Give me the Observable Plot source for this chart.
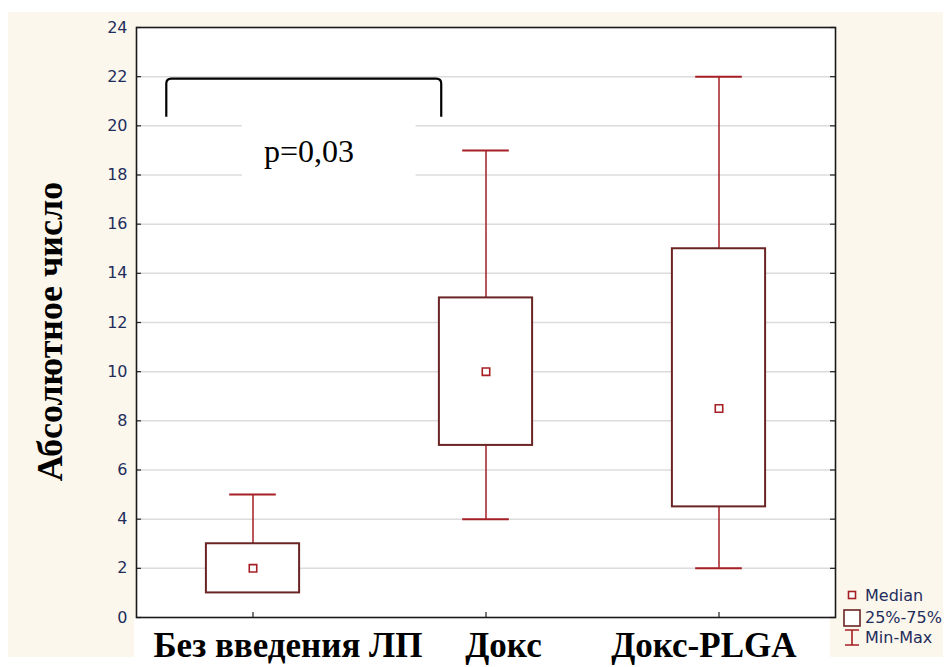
<!DOCTYPE html>
<html>
<head>
<meta charset="utf-8">
<script src="https://cdn.jsdelivr.net/npm/d3@7"></script>
<script src="https://cdn.jsdelivr.net/npm/@observablehq/plot@0.6"></script>
<style>
  body { margin: 0; background: #fff; }
  #wrap { position: relative; width: 945px; height: 667px; overflow: hidden; }
  .bg { position: absolute; }
  #chart { position: absolute; left: 0; top: 0; }
  #legend { position: absolute; left: 0; top: 0; }
</style>
</head>
<body>
<div id="wrap">
  <div class="bg" style="left:8px;top:12px;width:935px;height:645px;background:#fcf7ec"></div>
  <div class="bg" style="left:134px;top:618px;width:696px;height:49px;background:#fff"></div>
  <div id="chart"></div>
  <svg id="legend" width="945" height="667"></svg>
</div>
<script>
// Groups and box-plot summaries (min, quartiles, median, max)
const groups = ["Без введения ЛП", "Докс", "Докс-PLGA"];
const minVals = [1, 4, 2];
const q1Vals = [1, 7, 4.5];
const medianVals = [2, 10, 8.5];
const q3Vals = [3, 13, 15];
const maxVals = [5, 19, 22];
const yTicks = [0, 2, 4, 6, 8, 10, 12, 14, 16, 18, 20, 22, 24];
const pValueText = "p=0,03";

const rows = groups.map((g, i) => ({
  i, g, min: minVals[i], q1: q1Vals[i], median: medianVals[i], q3: q3Vals[i], max: maxVals[i]
}));

// Layout
const W = 945, H = 667;
const mL = 136, mR = 110, mT = 27, mB = 50;
const innerW = W - mL - mR, innerH = H - mT - mB;
const tickLen = 5;

// Styling
const boxStroke = "#6a2424";
const whiskerStroke = "#a51f24";
const medianStroke = "#a51f24";
const tickText = "#1f2d5c";
const boxHalf = 0.2, capHalf = 0.1;

// Significance bracket between the first two groups
const bracket = { x1: -0.37, x2: 0.81, top: 21.9, foot: 20.35 };
const pLabel = { x: 0.24, y: 18.95, boxX1: -0.045, boxX2: 0.70, boxY1: 17.5, boxY2: 20.2 };
const labelNudge = [0.15, 0.075, -0.065];

function bracketMark(index, scales) {
  const x = scales.x, y = scales.y;
  const xa = x(bracket.x1), xb = x(bracket.x2), yt = y(bracket.top), yf = y(bracket.foot);
  const r = 5;
  const path = document.createElementNS("http://www.w3.org/2000/svg", "path");
  path.setAttribute("d",
    `M${xa},${yf} L${xa},${yt + r} Q${xa},${yt} ${xa + r},${yt} L${xb - r},${yt} Q${xb},${yt} ${xb},${yt + r} L${xb},${yf}`);
  path.setAttribute("fill", "none");
  path.setAttribute("stroke", "#000");
  path.setAttribute("stroke-width", "2.2");
  return path;
}

const chart = Plot.plot({
  width: W, height: H,
  marginLeft: mL, marginRight: mR, marginTop: mT, marginBottom: mB,
  style: { background: "transparent", overflow: "visible" },
  x: { type: "linear", domain: [-0.5, 2.5], axis: null },
  y: { domain: [0, 24], axis: null },
  marks: [
    Plot.frame({ fill: "white" }),
    Plot.ruleY(yTicks.filter(v => v > 0 && v < 24), { stroke: "#dcdcdc", strokeWidth: 1.5 }),
    Plot.rect([pLabel], { x1: "boxX1", x2: "boxX2", y1: "boxY1", y2: "boxY2", fill: "white" }),
    bracketMark,
    Plot.text([pLabel], { x: "x", y: "y", text: () => pValueText, fontFamily: "Liberation Serif", fontSize: 32, fill: "#000" }),
    // whiskers
    Plot.ruleX(rows, { x: "i", y1: "q3", y2: "max", stroke: whiskerStroke, strokeWidth: 1.5 }),
    Plot.ruleX(rows.filter(d => d.min < d.q1), { x: "i", y1: "min", y2: "q1", stroke: whiskerStroke, strokeWidth: 1.5 }),
    Plot.ruleY(rows, { y: "max", x1: d => d.i - capHalf, x2: d => d.i + capHalf, stroke: whiskerStroke, strokeWidth: 2 }),
    Plot.ruleY(rows.filter(d => d.min < d.q1), { y: "min", x1: d => d.i - capHalf, x2: d => d.i + capHalf, stroke: whiskerStroke, strokeWidth: 2 }),
    // boxes
    Plot.rect(rows, { x1: d => d.i - boxHalf, x2: d => d.i + boxHalf, y1: "q1", y2: "q3", fill: "white", stroke: boxStroke, strokeWidth: 2 }),
    // medians
    Plot.dot(rows, { x: "i", y: "median", symbol: "square", r: 4.2, fill: "white", stroke: medianStroke, strokeWidth: 1.6 }),
    // y tick labels
    Plot.axisY(yTicks, { anchor: "left", tickSize: 0, tickPadding: 9, fontFamily: "DejaVu Sans", fontSize: 16, fill: tickText, label: null }),
    // inward tick marks
    Plot.tickY(yTicks, { y: d => d, insetRight: innerW - tickLen, stroke: "#222", strokeWidth: 1.2 }),
    Plot.tickY(yTicks, { y: d => d, insetLeft: innerW - tickLen, stroke: "#222", strokeWidth: 1.2 }),
    Plot.tickX(rows, { x: "i", insetTop: innerH - tickLen, stroke: "#222", strokeWidth: 1.2 }),
    // category labels
    Plot.text(rows, {
      x: d => d.i + labelNudge[d.i], text: "g", frameAnchor: "bottom", dy: 39,
      fontFamily: "Liberation Serif", fontWeight: "bold", fontSize: 35, fill: "#000"
    }),
    // y axis title
    Plot.text(["Абсолютное число"], {
      text: d => d, frameAnchor: "left", textAnchor: "middle", dx: -86, dy: 9, rotate: -90,
      fontFamily: "Liberation Serif", fontWeight: "bold", fontSize: 36, fill: "#000"
    }),
    Plot.frame({ stroke: "#1a1a1a", strokeWidth: 1.6 })
  ]
});
document.getElementById("chart").appendChild(chart);

// Legend: median marker, interquartile box, min–max whisker
const lg = d3.select("#legend");
const lx = 852;
lg.append("rect").attr("x", lx - 3.5).attr("y", 591.5).attr("width", 7).attr("height", 7)
  .attr("fill", "white").attr("stroke", medianStroke).attr("stroke-width", 1.6);
lg.append("rect").attr("x", lx - 8).attr("y", 610).attr("width", 16).attr("height", 16)
  .attr("fill", "white").attr("stroke", boxStroke).attr("stroke-width", 1.6);
lg.append("path").attr("d", `M${lx - 7},630 L${lx + 7},630 M${lx},630 L${lx},645 M${lx - 7},645 L${lx + 7},645`)
  .attr("fill", "none").attr("stroke", whiskerStroke).attr("stroke-width", 1.6);
[["Median", 601], ["25%-75%", 623], ["Min-Max", 643]].forEach(([t, yb]) => {
  lg.append("text").attr("x", 865).attr("y", yb).text(t)
    .attr("font-family", "DejaVu Sans").attr("font-size", 16).attr("fill", tickText);
});
</script>
</body>
</html>
